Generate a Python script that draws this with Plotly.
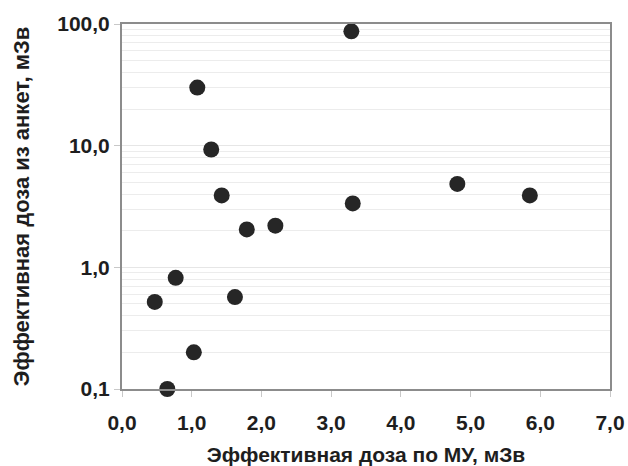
import plotly.graph_objects as go

dose_mu = [3.29, 1.08, 1.28, 1.43, 1.79, 2.20, 0.77, 0.47, 1.62, 1.03, 0.65, 3.31, 4.81, 5.85]
dose_survey = [87.0, 30.0, 9.3, 3.9, 2.05, 2.2, 0.82, 0.52, 0.57, 0.20, 0.10, 3.35, 4.85, 3.9]

x_ticks = [0, 1, 2, 3, 4, 5, 6, 7]
y_ticks = [0.1, 1, 10, 100]
y_minor = [m * d for d in (0.1, 1, 10) for m in range(2, 10)]

font_family = "Liberation Sans, Arial, sans-serif"
text_color = "#1e1e1e"
axis_color = "#8c8c8c"

fig = go.Figure()
fig.add_trace(go.Scatter(
    x=dose_mu, y=dose_survey, mode="markers",
    marker=dict(size=16, color="#262626", line=dict(width=0)),
    cliponaxis=False, showlegend=False,
))

fig.update_layout(
    width=628, height=466,
    margin=dict(l=122, r=18, t=24, b=77, autoexpand=False),
    paper_bgcolor="white", plot_bgcolor="white",
    separators=", ",
    font=dict(family=font_family, color=text_color),
)

fig.update_xaxes(
    range=[0, 7], tickvals=x_ticks, tickformat=".1f",
    showgrid=False, zeroline=False, automargin=False,
    showline=True, linewidth=2, linecolor=axis_color, mirror=True,
    ticks="outside", ticklen=6, tickcolor="#c8c8c8", tickwidth=1,
    ticklabelstandoff=8,
    tickfont=dict(size=21, family=font_family, color=text_color, weight="bold"),
    title=dict(text="Эффективная доза по МУ, мЗв", standoff=16,
               font=dict(size=21, family=font_family, color=text_color, weight="bold")),
)

fig.update_yaxes(
    type="log", range=[-1, 2], tickvals=y_ticks, tickformat=".1f",
    showgrid=True, gridcolor="#e6e6e6", gridwidth=1, zeroline=False, automargin=False,
    showline=True, linewidth=2, linecolor=axis_color, mirror=True,
    ticks="outside", ticklen=6, tickcolor="#c8c8c8", tickwidth=1,
    minor=dict(tickvals=y_minor, showgrid=True, gridcolor="#ececec", gridwidth=1, ticks=""),
    tickfont=dict(size=21, family=font_family, color=text_color, weight="bold"),
    title=dict(text="Эффективная доза из анкет, мЗв", standoff=22,
               font=dict(size=22, family=font_family, color=text_color, weight="bold")),
)

fig.write_html(
    "out.html",
    config={"displayModeBar": False},
    post_script="document.body.style.margin='0';document.body.style.overflow='hidden';",
)
